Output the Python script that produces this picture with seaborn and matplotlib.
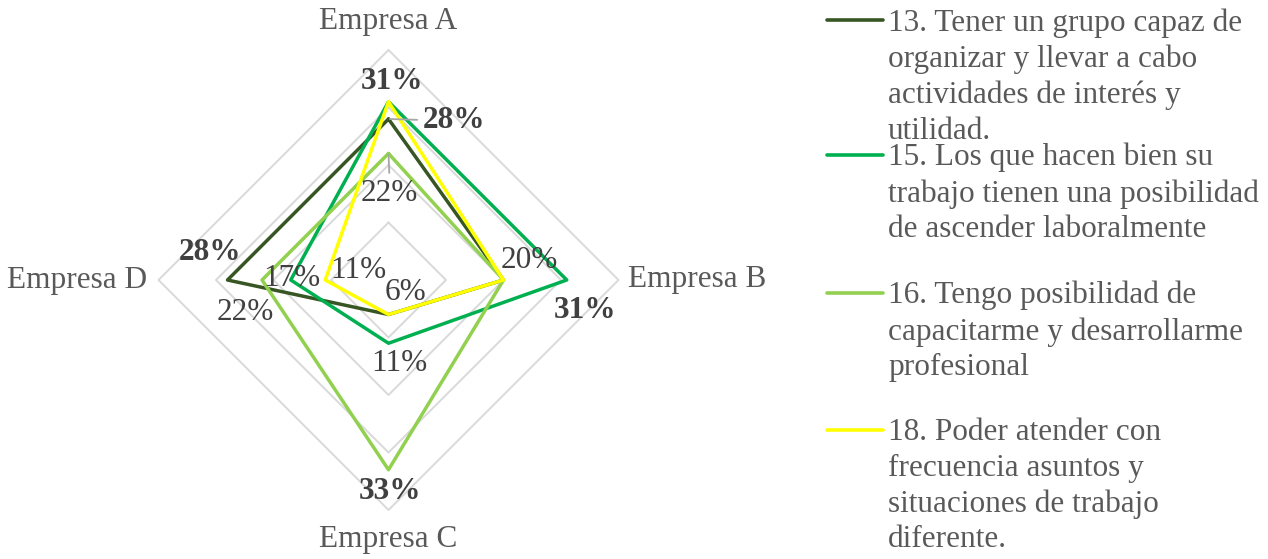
import numpy as np
import pandas as pd
import matplotlib
matplotlib.use("Agg")
import matplotlib.pyplot as plt
from matplotlib.lines import Line2D
import seaborn as sns

# ---- data -------------------------------------------------------------
categories = ["Empresa A", "Empresa B", "Empresa C", "Empresa D"]
series_names = [
    "13. Tener un grupo capaz de\norganizar y llevar a cabo\nactividades de interés y\nutilidad.",
    "15. Los que hacen bien su\ntrabajo tienen una posibilidad\nde ascender laboralmente",
    "16. Tengo posibilidad de\ncapacitarme y desarrollarme\nprofesional",
    "18. Poder atender con\nfrecuencia asuntos y\nsituaciones de trabajo\ndiferente.",
]
s13 = [0.28, 0.20, 0.06, 0.28]
s15 = [0.31, 0.31, 0.11, 0.17]
s16 = [0.22, 0.20, 0.33, 0.22]
s18 = [0.31, 0.20, 0.06, 0.11]
series_values = [s13, s15, s16, s18]
grid_levels = [0.1, 0.2, 0.3, 0.4]

# ---- styling ----------------------------------------------------------
colors = ["#375623", "#00B050", "#92D050", "#FFFF00"]
text_gray = "#595959"
label_gray = "#404040"
grid_color = "#d9d9d9"

# data labels: (series index, category index, dx px, dy px, bold, leader)
data_labels = [
    (3, 0, 4, 20, True, None),
    (0, 0, 66, -1, True, (0.0, 0.5)),
    (2, 0, 1, -40, False, (0.5, 1.0)),
    (2, 1, 26, 20, False, None),
    (1, 1, 18, -30, True, None),
    (2, 2, 1, -22, True, None),
    (1, 2, 11, -20, False, None),
    (3, 2, 17, 22, False, None),
    (3, 3, 33, 10, False, None),
    (1, 3, 1, 2, False, None),
    (2, 3, -17, -33, False, None),
    (0, 3, -17, 28, True, None),
]

sns.set_style("white")
plt.rcParams["font.family"] = ["Liberation Serif", "DejaVu Serif"]

W, H, DPI = 1268, 559, 100
FS = 22.5
fig = plt.figure(figsize=(W / DPI, H / DPI), dpi=DPI)
cx, cy, R = 388.5, 280.0, 230.0
ax = fig.add_axes([(cx - R) / W, (H - cy - R) / H, 2 * R / W, 2 * R / H],
                  projection="polar")
ax.set_theta_zero_location("N")
ax.set_theta_direction(-1)
ax.set_ylim(0, grid_levels[-1])
ax.grid(False)
ax.spines["polar"].set_visible(False)
ax.set_xticks([])
ax.set_yticks([])
ax.patch.set_alpha(0)

n = len(categories)
theta = np.arange(n) * 2 * np.pi / n
theta_closed = np.append(theta, 2 * np.pi)

# diamond grid
for lvl in grid_levels:
    ax.plot(theta_closed, [lvl] * (n + 1), color=grid_color, lw=1.4,
            zorder=0, clip_on=False)

# series polygons
rows = []
for name, vals in zip(series_names, series_values):
    closed = list(vals) + [vals[0]]
    for t, v in zip(theta_closed, closed):
        rows.append({"theta": t, "value": v, "serie": name})
df = pd.DataFrame(rows)
sns.lineplot(data=df, x="theta", y="value", hue="serie",
             hue_order=series_names, palette=colors, estimator=None,
             sort=False, linewidth=2.5, legend=False, ax=ax)
for ln in ax.get_lines():
    ln.set_clip_on(False)
ax.set_xlabel("")
ax.set_ylabel("")

# category labels
cat_pos = [(0.449, "center"), (0.4165, "left"), (0.452, "center"), (0.42, "right")]
for t, cat, (r, ha) in zip(theta, categories, cat_pos):
    ax.text(t, r, cat, ha=ha, va="center", fontsize=FS, color=text_gray,
            clip_on=False)

# value labels
pt = 72.0 / DPI
for si, ci, dx, dy, bold, leader in data_labels:
    v = series_values[si][ci]
    kw = {}
    if leader is not None:
        kw["arrowprops"] = dict(arrowstyle="-", color="#a6a6a6", lw=1.3,
                                relpos=leader, shrinkA=2, shrinkB=1)
    ax.annotate(f"{v * 100:.0f}%", xy=(theta[ci], v),
                xytext=(dx * pt, dy * pt), textcoords="offset points",
                ha="center", va="center", fontsize=FS,
                fontweight="bold" if bold else "normal",
                color=label_gray, annotation_clip=False, **kw)

# legend
legend_y = [20, 155, 293, 430]
for name, col, y in zip(series_names, colors, legend_y):
    fig.add_artist(Line2D([827 / W, 883 / W], [1 - y / H, 1 - y / H],
                          color=col, lw=2.6, transform=fig.transFigure))
    fig.text(888 / W, 1 - (y - 12) / H, name, ha="left", va="top",
             fontsize=FS, color=text_gray, linespacing=1.3)

fig.savefig("out.png", dpi=DPI)
